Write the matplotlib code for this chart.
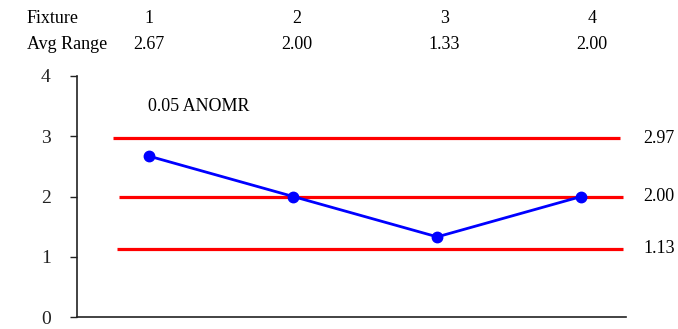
import matplotlib
matplotlib.use("Agg")
import matplotlib.pyplot as plt

# data
fixtures = [1, 2, 3, 4]
avg_range = [2.67, 2.00, 1.33, 2.00]
udl = 2.97
center = 2.00
ldl = 1.13
title_txt = "0.05 ANOMR"

plt.rcParams['font.family'] = ['Liberation Serif', 'DejaVu Serif']
fs = 13

fig = plt.figure(figsize=(6.78, 3.29), dpi=100)
ax = fig.add_axes([77/678, 12/329, 549/678, 241/329])

# decision lines
ax.plot([0.75, 4.27], [udl, udl], color='red', lw=2.3, solid_capstyle='butt')
ax.plot([0.79, 4.29], [center, center], color='red', lw=2.3, solid_capstyle='butt')
ax.plot([0.78, 4.29], [ldl, ldl], color='red', lw=2.3, solid_capstyle='butt')

# fixture averages
ax.plot(fixtures, avg_range, color='blue', lw=2, marker='o', ms=7.5, zorder=3)

ax.set_xlim(0.5, 4.31)
ax.set_ylim(0, 4)
ax.set_yticks([0, 1, 2, 3, 4])
ax.set_xticks([])
ax.tick_params(axis='y', length=5, width=1, pad=14, labelsize=14, colors='#222222')
for s in ['top', 'right']:
    ax.spines[s].set_visible(False)
for s in ['left', 'bottom']:
    ax.spines[s].set_color('#222222')
    ax.spines[s].set_linewidth(1.2)

# header rows
ax.text(0.153, 4.96, "Fixture", fontsize=fs, ha='left', va='center', clip_on=False)
ax.text(0.153, 4.53, "Avg Range", fontsize=fs, ha='left', va='center', clip_on=False)
for f, r in zip(fixtures, avg_range):
    xh = f + 0.025 * (f - 1)   # header columns sit a touch wider than the points
    ax.text(xh, 4.96, str(f), fontsize=fs, ha='center', va='center', clip_on=False)
    ax.text(xh, 4.53, f"{r:.2f}", fontsize=fs, ha='center', va='center', clip_on=False)

# line labels
for v in [udl, center, ldl]:
    ax.text(4.43, v, f"{v:.2f}", fontsize=fs, ha='left', va='center', clip_on=False)

ax.text(0.99, 3.5, title_txt, fontsize=fs, ha='left', va='center')

fig.savefig("out.png", dpi=100)
